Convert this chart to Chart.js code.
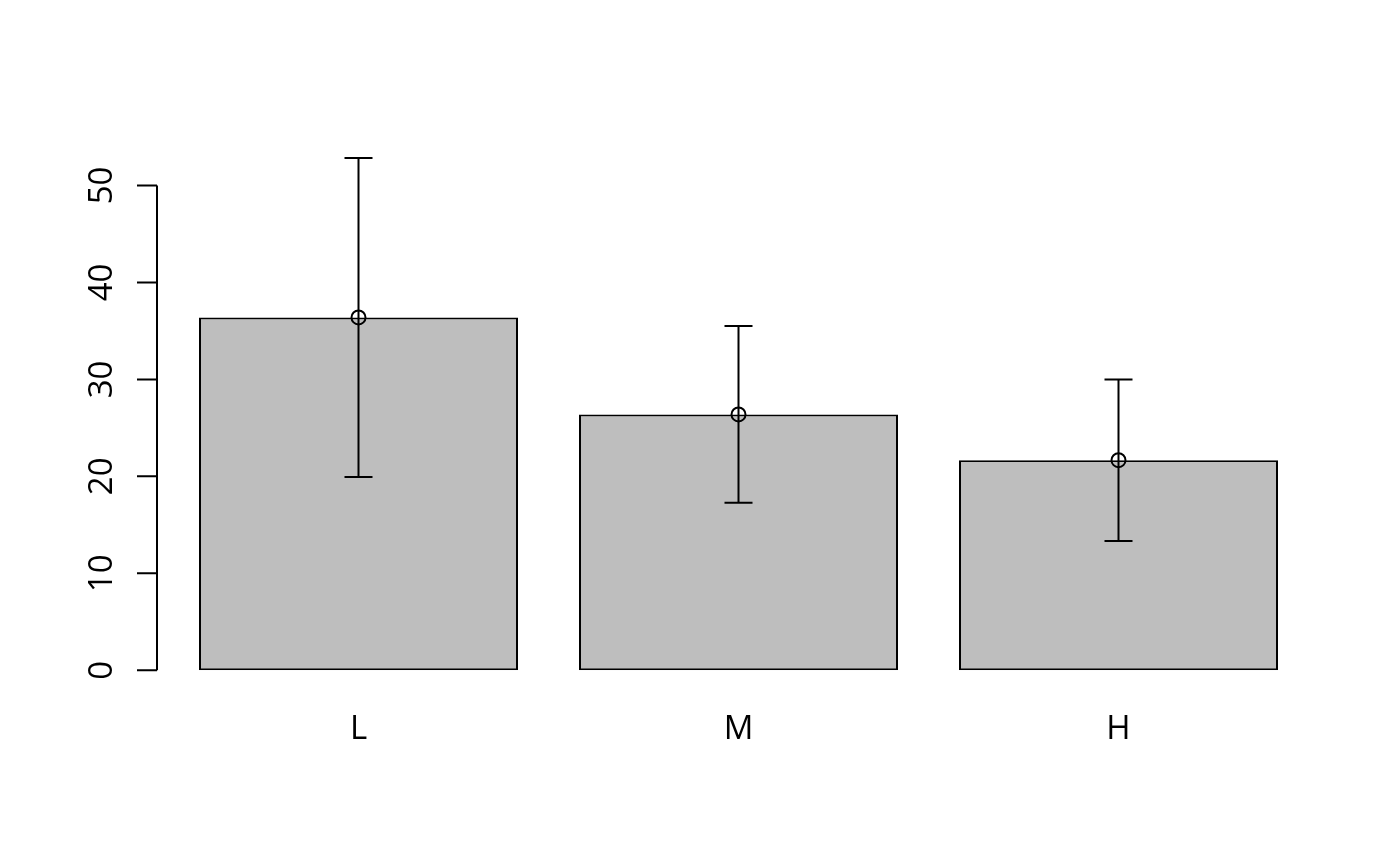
<!DOCTYPE html>
<html>
<head>
<meta charset="utf-8">
<script src="https://cdn.jsdelivr.net/npm/chart.js@4/dist/chart.umd.min.js"></script>
<style>
html, body { margin: 0; padding: 0; background: #ffffff; }
#wrap { width: 1400px; height: 866px; position: relative; }
</style>
</head>
<body>
<div id="wrap"><canvas id="c"></canvas></div>
<script>
const categories = ["L", "M", "H"];
const means = [36.39, 26.39, 21.67];
const upper = [52.84, 35.50, 30.00];
const lower = [19.94, 17.27, 13.33];
const yTicks = [0, 10, 20, 30, 40, 50];

const FONT = '"Open Sans", "Noto Sans", sans-serif';

const rAxesPlugin = {
  id: 'rAxes',
  afterDatasetsDraw(chart) {
    const ctx = chart.ctx;
    const xs = chart.scales.x;
    const ys = chart.scales.y;
    ctx.save();
    ctx.strokeStyle = '#000';
    ctx.lineWidth = 2;
    // error bars
    const capHalf = 14;
    for (let i = 0; i < categories.length; i++) {
      const x = xs.getPixelForValue(i);
      const yu = ys.getPixelForValue(upper[i]);
      const yl = ys.getPixelForValue(lower[i]);
      ctx.beginPath();
      ctx.moveTo(x, yu); ctx.lineTo(x, yl);
      ctx.moveTo(x - capHalf, yu); ctx.lineTo(x + capHalf, yu);
      ctx.moveTo(x - capHalf, yl); ctx.lineTo(x + capHalf, yl);
      ctx.stroke();
    }
    // y axis
    const ax = chart.chartArea.left - 11.5;
    const y0 = ys.getPixelForValue(yTicks[0]);
    const y1 = ys.getPixelForValue(yTicks[yTicks.length - 1]);
    ctx.beginPath();
    ctx.moveTo(ax, y0); ctx.lineTo(ax, y1);
    yTicks.forEach(v => {
      const yy = ys.getPixelForValue(v);
      ctx.moveTo(ax, yy); ctx.lineTo(ax - 20, yy);
    });
    ctx.stroke();
    ctx.fillStyle = '#000';
    ctx.font = '33px ' + FONT;
    ctx.textAlign = 'center';
    ctx.textBaseline = 'alphabetic';
    yTicks.forEach(v => {
      const yy = ys.getPixelForValue(v);
      ctx.save();
      ctx.translate(ax - 45, yy);
      ctx.rotate(-Math.PI / 2);
      ctx.fillText(String(v), 0, 0);
      ctx.restore();
    });
    // x labels
    categories.forEach((c, i) => {
      const x = xs.getPixelForValue(i);
      ctx.fillText(c, x, y0 + 69);
    });
    ctx.restore();
  }
};

new Chart(document.getElementById('c'), {
  data: {
    labels: categories,
    datasets: [
      {
        type: 'line',
        data: means,
        showLine: false,
        pointRadius: 7,
        pointHoverRadius: 7,
        pointBorderWidth: 2,
        pointBorderColor: '#000',
        pointBackgroundColor: 'rgba(0,0,0,0)',
        order: 0
      },
      {
        type: 'bar',
        data: means,
        backgroundColor: '#bebebe',
        borderColor: '#000',
        borderWidth: 2,
        borderSkipped: false,
        barPercentage: 0.8395,
        categoryPercentage: 1.0,
        order: 1
      }
    ]
  },
  options: {
    responsive: true,
    maintainAspectRatio: false,
    animation: false,
    events: [],
    layout: { padding: { left: 168.5, right: 91.5, top: 137.0, bottom: 195.7 } },
    plugins: { legend: { display: false }, tooltip: { enabled: false } },
    scales: {
      x: { type: 'category', display: false, offset: true },
      y: { type: 'linear', display: false, min: 0, max: 55 }
    }
  },
  plugins: [rAxesPlugin]
});
</script>
</body>
</html>
